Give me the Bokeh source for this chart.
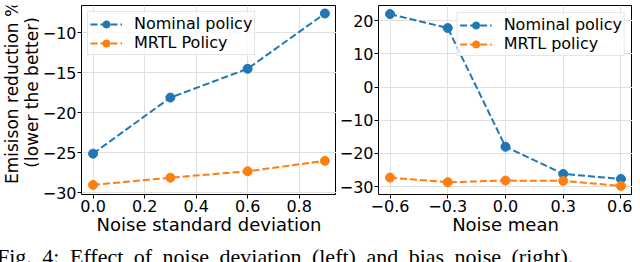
import math
from bokeh.plotting import figure
from bokeh.layouts import row, column
from bokeh.models import Range1d, FixedTicker, CustomJSTickFormatter, Legend, LegendItem, Div
from bokeh.core.properties import value
from bokeh.embed import file_html
from bokeh.resources import INLINE

# ---- data ----
std_x = [0.0, 0.3, 0.6, 0.9]
std_nominal = [-25.1, -18.1, -14.5, -7.6]
std_mrtl = [-29.0, -28.1, -27.3, -26.0]

mean_x = [-0.6, -0.3, 0.0, 0.3, 0.6]
mean_nominal = [22.0, 17.8, -18.0, -26.2, -27.7]
mean_mrtl = [-27.3, -28.7, -28.2, -28.3, -29.8]

std_xticks = [0.0, 0.2, 0.4, 0.6, 0.8]
std_yticks = [-30, -25, -20, -15, -10]
mean_xticks = [-0.6, -0.3, 0.0, 0.3, 0.6]
mean_yticks = [-30, -20, -10, 0, 10, 20]

ylabel_lines = ["Emisison reduction %", "(lower the better)"]

BLUE = "#1f77b4"
ORANGE = "#ff7f0e"
FONT = "DejaVu Sans"

def fmt(decimals):
    return CustomJSTickFormatter(code=f"""
        const s = Math.abs(tick).toFixed({decimals});
        return (tick < -1e-9 ? '\\u2212' : '') + s;
    """)

def style(p, xticks, yticks, xdec, ydec):
    p.outline_line_color = "black"
    p.outline_line_width = 1
    for ax in (p.xaxis[0], p.yaxis[0]):
        ax.axis_line_color = None
        ax.major_tick_out = 4
        ax.major_tick_in = 0
        ax.minor_tick_line_color = None
        ax.major_tick_line_color = "black"
        ax.major_label_text_font = FONT
        ax.major_label_text_font_size = "16px"
        ax.major_label_text_color = "black"
        ax.axis_label_text_font = FONT
        ax.axis_label_text_font_size = "18px"
        ax.axis_label_text_font_style = "normal"
        ax.axis_label_text_color = "black"
    p.xaxis[0].ticker = FixedTicker(ticks=xticks)
    p.yaxis[0].ticker = FixedTicker(ticks=yticks)
    p.xaxis[0].formatter = fmt(xdec)
    p.yaxis[0].formatter = fmt(ydec)
    p.xaxis[0].major_label_standoff = 1
    p.yaxis[0].major_label_standoff = 1
    p.xaxis[0].axis_label_standoff = -1
    p.xgrid.grid_line_color = "#e0e0e0"
    p.ygrid.grid_line_color = "#e0e0e0"
    p.xgrid.ticker = FixedTicker(ticks=xticks)
    p.ygrid.ticker = FixedTicker(ticks=yticks)

def series(p, x, y, color):
    l = p.line(x, y, line_color=color, line_width=2, line_dash="7 3")
    s = p.scatter(x, y, size=9, fill_color=color, line_color=color)
    return [l, s]

def add_legend(p, items, loc, margin):
    leg = Legend(items=items, location=loc)
    leg.label_text_font = FONT
    leg.label_text_font_size = "16px"
    leg.label_text_color = "black"
    leg.glyph_width = 32
    leg.glyph_height = 18
    leg.label_height = 18
    leg.label_standoff = 12
    leg.spacing = 0
    leg.padding = 2
    leg.margin = margin
    leg.border_line_color = "#cccccc"
    leg.background_fill_alpha = 0.8
    p.add_layout(leg)

H = 238
LW = 47

# y-axis title panel (two-line rotated label)
pl = figure(width=LW, height=H, output_backend="svg", toolbar_location=None,
            x_range=Range1d(0, LW), y_range=Range1d(0, H),
            x_axis_type=None, y_axis_type=None,
            min_border_left=0, min_border_right=0, min_border_top=0, min_border_bottom=0)
pl.outline_line_color = None
pl.grid.visible = False
pl.text(x=[19, 39], y=[H - 109.5, H - 109.5], text=ylabel_lines, angle=math.pi / 2,
        text_align="center", text_baseline="middle", text_font=value(FONT),
        text_font_size="17px", text_color="black")

p1 = figure(width=344 - LW, height=H, output_backend="svg", toolbar_location=None,
            x_range=Range1d(-0.045, 0.945), y_range=Range1d(-30.2, -6.6),
            min_border_left=86 - LW, min_border_right=0, min_border_top=2, min_border_bottom=46)
style(p1, std_xticks, std_yticks, 1, 0)
p1.xaxis[0].axis_label = "Noise standard deviation"
r1 = series(p1, std_x, std_nominal, BLUE)
r2 = series(p1, std_x, std_mrtl, ORANGE)
add_legend(p1, [LegendItem(label="Nominal policy", renderers=r1),
                LegendItem(label="MRTL Policy", renderers=r2)], "top_left", 6)

p2 = figure(width=296, height=H, output_backend="svg", toolbar_location=None,
            x_range=Range1d(-0.66, 0.66), y_range=Range1d(-32.4, 24.6),
            min_border_left=41, min_border_right=0, min_border_top=2, min_border_bottom=47)
style(p2, mean_xticks, mean_yticks, 1, 0)
p2.xaxis[0].axis_label = "Noise mean"
r3 = series(p2, mean_x, mean_nominal, BLUE)
r4 = series(p2, mean_x, mean_mrtl, ORANGE)
add_legend(p2, [LegendItem(label="Nominal policy", renderers=r3),
                LegendItem(label="MRTL policy", renderers=r4)], "top_right", 7)

cap = Div(text='<div style="position:relative; top:-5px; white-space:nowrap; word-spacing:5px;">'
               'Fig. 4: Effect of noise deviation (left) and bias noise (right).</div>',
          width=640, height=24,
          styles={"font-family": "Liberation Serif", "font-size": "22px", "overflow": "hidden",
                  "color": "black"})

root = column(row(pl, p1, p2, spacing=0), cap, spacing=0)
root.styles = {"position": "relative", "left": "-8px", "top": "3px"}

open("out.html", "w").write(file_html(root, INLINE))
